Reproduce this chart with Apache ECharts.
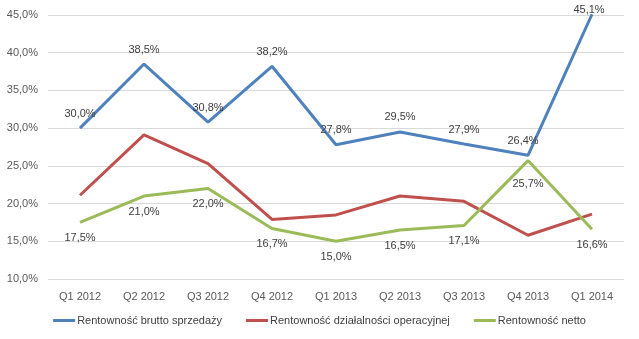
<!DOCTYPE html>
<html>
<head>
<meta charset="utf-8">
<script src="https://cdn.jsdelivr.net/npm/echarts@6/dist/echarts.min.js"></script>
<style>html,body{margin:0;padding:0;background:#fff}#c{width:639px;height:339px}</style>
</head>
<body>
<div id="c"></div>
<script>
const categories = ['Q1 2012','Q2 2012','Q3 2012','Q4 2012','Q1 2013','Q2 2013','Q3 2013','Q4 2013','Q1 2014'];
const seriesNames = ['Rentowność brutto sprzedaży','Rentowność działalności operacyjnej','Rentowność netto'];
const brutto = [30.0, 38.5, 30.8, 38.2, 27.8, 29.5, 27.9, 26.4, 45.1];
const operacyjna = [21.1, 29.1, 25.3, 17.9, 18.5, 21.0, 20.3, 15.8, 18.6];
const netto = [17.5, 21.0, 22.0, 16.7, 15.0, 16.5, 17.1, 25.7, 16.6];
const yTicks = [10, 15, 20, 25, 30, 35, 40, 45];

const fmt = v => v.toFixed(1).replace('.', ',') + '%';
const font = "'Liberation Sans', Arial, sans-serif";

// per-point label placement tweaks (styling only)
const bruttoData = brutto.map((v, i) => {
  if (i === brutto.length - 1) return {value: v, label: {distance: -1, offset: [-3, 0]}};
  if (i === 7) return {value: v, label: {offset: [-5, 0]}};
  return v;
});
const nettoData = netto.map((v, i) => {
  if (i === 7) return {value: v, label: {distance: 18}};
  return v;
});

const chart = echarts.init(document.getElementById('c'), null, {renderer: 'canvas'});
chart.setOption({
  animation: false,
  textStyle: {fontFamily: font},
  grid: {left: 48, right: 15, top: 15, bottom: 60},
  legend: {
    bottom: 8, left: 'center',
    icon: 'rect', itemWidth: 22, itemHeight: 3, itemGap: 24,
    textStyle: {fontSize: 11, color: '#404040', fontFamily: font, padding: [0,0,0,-3]},
    data: seriesNames
  },
  xAxis: {
    type: 'category', data: categories, boundaryGap: true,
    axisLine: {show: false}, axisTick: {show: false},
    axisLabel: {fontSize: 11, color: '#595959', margin: 12}
  },
  yAxis: {
    type: 'value', min: yTicks[0], max: yTicks[yTicks.length-1], interval: 5,
    axisLine: {show: false}, axisTick: {show: false},
    axisLabel: {fontSize: 11, color: '#595959', formatter: v => v.toFixed(1).replace('.', ',') + '%', margin: 10},
    splitLine: {lineStyle: {color: '#d9d9d9', width: 1}}
  },
  series: [
    {name: seriesNames[0], type: 'line', data: bruttoData, symbol: 'circle', symbolSize: 0, showSymbol: true, clip: false, color: '#4F81BD',
     lineStyle: {width: 3, color: '#4F81BD'},
     label: {show: true, position: 'top', distance: 9, fontSize: 11, color: '#404040', formatter: p => fmt(p.value)}},
    {name: seriesNames[1], type: 'line', data: operacyjna, symbol: 'none', color: '#C0504D',
     lineStyle: {width: 3, color: '#C0504D'}},
    {name: seriesNames[2], type: 'line', data: nettoData, symbol: 'circle', symbolSize: 0, showSymbol: true, color: '#9BBB59',
     lineStyle: {width: 3, color: '#9BBB59'},
     label: {show: true, position: 'bottom', distance: 10, fontSize: 11, color: '#404040', formatter: p => fmt(p.value)}}
  ]
});
</script>
</body>
</html>
